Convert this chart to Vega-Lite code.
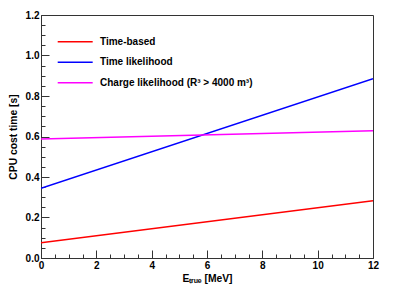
{
  "$schema": "https://vega.github.io/schema/vega-lite/v6.json",
  "width": 332,
  "height": 243,
  "autosize": {"type": "none"},
  "padding": {"left": 41, "top": 15, "right": 42, "bottom": 46},
  "background": "white",
  "config": {
    "view": {"stroke": "#333333", "strokeWidth": 1},
    "font": "Liberation Sans",
    "axis": {
      "labelFont": "Liberation Sans",
      "labelFontWeight": "bold",
      "labelFontSize": 10,
      "labelColor": "black",
      "titleFont": "Liberation Sans",
      "titleFontWeight": "bold",
      "titleFontSize": 10.3,
      "titleColor": "black",
      "domainColor": "#333333",
      "tickColor": "#333333",
      "grid": false
    }
  },
  "data": {
    "values": [
      {"E": 0, "t": 0.075, "method": "Time-based"},
      {"E": 12, "t": 0.283, "method": "Time-based"},
      {"E": 0, "t": 0.344, "method": "Time likelihood"},
      {"E": 12, "t": 0.885, "method": "Time likelihood"},
      {"E": 0, "t": 0.588, "method": "Charge likelihood (R³ > 4000 m³)"},
      {"E": 12, "t": 0.628, "method": "Charge likelihood (R³ > 4000 m³)"}
    ]
  },
  "layer": [
    {
      "mark": {"type": "line", "strokeWidth": 1.5, "clip": true},
      "encoding": {
        "x": {
          "field": "E", "type": "quantitative",
          "scale": {"domain": [0, 12], "nice": false, "zero": false},
          "axis": {
            "orient": "bottom",
            "title": "Eₜᵣᵤₑ [MeV]",
            "values": [0, 2, 4, 6, 8, 10, 12],
            "tickSize": -8,
            "labelPadding": 10,
            "titlePadding": 3,
            "labelFlush": false,
            "domainWidth": 1
          }
        },
        "y": {
          "field": "t", "type": "quantitative",
          "scale": {"domain": [0, 1.2], "nice": false},
          "axis": {
            "orient": "left",
            "title": "CPU cost time [s]",
            "values": [0, 0.2, 0.4, 0.6, 0.8, 1, 1.2],
            "tickSize": -8,
            "labelPadding": 10,
            "titlePadding": 7,
            "labelFlush": false,
            "domainWidth": 1
          }
        },
        "color": {
          "field": "method", "type": "nominal",
          "scale": {
            "domain": ["Time-based", "Time likelihood", "Charge likelihood (R³ > 4000 m³)"],
            "range": ["#ff0000", "#0000ff", "#ff00ff"]
          },
          "legend": {
            "title": null,
            "orient": "none",
            "legendX": 27.2,
            "legendY": 19.7,
            "symbolType": "M-3,0H3",
            "symbolSize": 136,
            "symbolStrokeWidth": 1.5,
            "labelFont": "Liberation Sans",
            "labelFontWeight": "bold",
            "labelFontSize": 10,
            "labelColor": "black",
            "labelOffset": 17.8,
            "rowPadding": 8.5,
            "labelLimit": 400
          }
        }
      }
    },
    {
      "mark": {"type": "line", "opacity": 0},
      "encoding": {
        "x": {
          "field": "E", "type": "quantitative",
          "axis": {
            "orient": "bottom",
            "title": null,
            "values": [0.5, 1, 1.5, 2.5, 3, 3.5, 4.5, 5, 5.5, 6.5, 7, 7.5, 8.5, 9, 9.5, 10.5, 11, 11.5],
            "tickSize": -4,
            "labels": false,
            "domain": false
          }
        },
        "y": {
          "field": "t", "type": "quantitative",
          "axis": {
            "orient": "left",
            "title": null,
            "values": [0.05, 0.1, 0.15, 0.25, 0.3, 0.35, 0.45, 0.5, 0.55, 0.65, 0.7, 0.75, 0.85, 0.9, 0.95, 1.05, 1.1, 1.15],
            "tickSize": -4,
            "labels": false,
            "domain": false
          }
        },
        "detail": {"field": "method"}
      }
    }
  ],
  "resolve": {"axis": {"x": "independent", "y": "independent"}}
}
